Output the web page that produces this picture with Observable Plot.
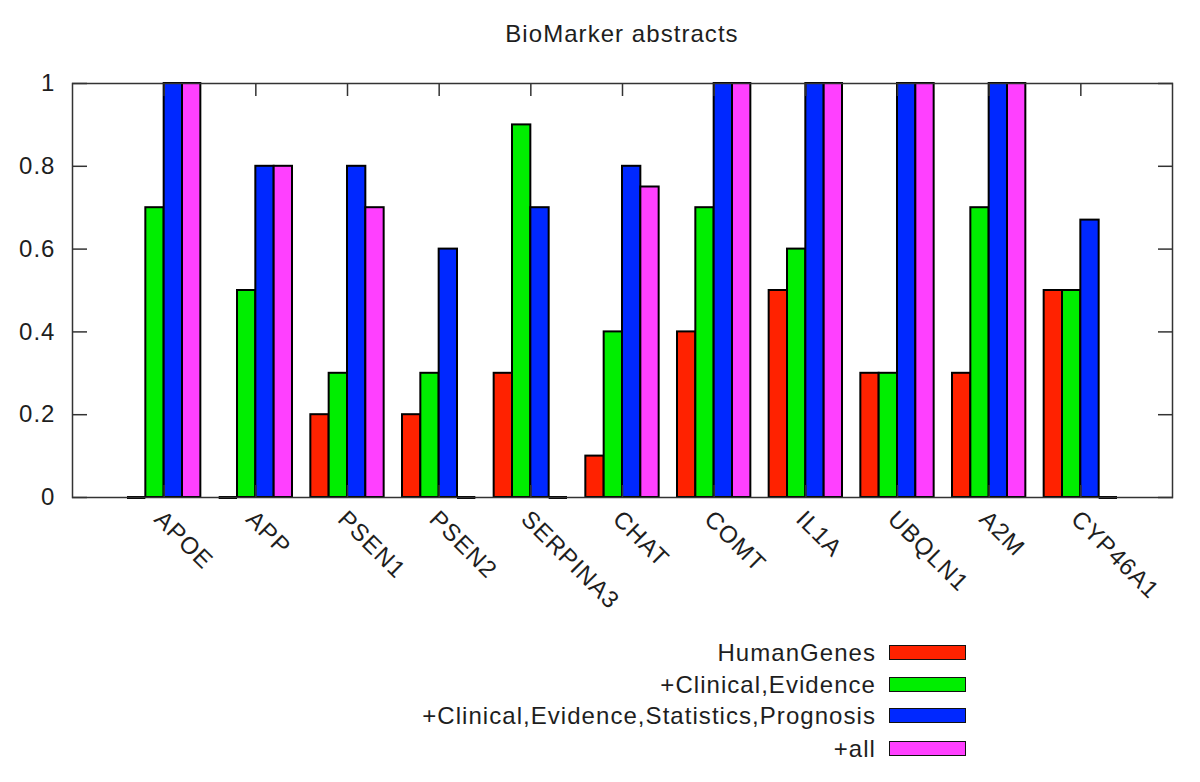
<!DOCTYPE html>
<html>
<head>
<meta charset="utf-8">
<script src="https://cdn.jsdelivr.net/npm/d3@7"></script>
<script src="https://cdn.jsdelivr.net/npm/@observablehq/plot@0.6"></script>
<style>
  html, body { margin: 0; padding: 0; background: #fff; }
  #wrap { position: relative; width: 1200px; height: 782px; font-family: "Liberation Sans", Arial, sans-serif; color: #1e1e1e; }
  #title { position: absolute; left: 72px; width: 1100px; top: 22px; text-align: center; font-size: 24px; line-height: 24px; letter-spacing: 1.05px; }
  #chart { position: absolute; left: 0; top: 60px; }
  #legend { position: absolute; left: 0; top: 0; width: 1200px; }
  .lrow { position: absolute; left: 0; width: 1200px; height: 32px; }
  .ltext { position: absolute; right: 324px; font-size: 24px; line-height: 24px; letter-spacing: 1.05px; white-space: nowrap; }
  .lbox { position: absolute; left: 889px; width: 75px; height: 13px; border: 1.5px solid #111; }
</style>
</head>
<body>
<div id="wrap">
  <div id="title"></div>
  <div id="chart"></div>
  <div id="legend"></div>
</div>
<script>
const title = "BioMarker abstracts";
const genes = ["APOE", "APP", "PSEN1", "PSEN2", "SERPINA3", "CHAT", "COMT", "IL1A", "UBQLN1", "A2M", "CYP46A1"];
const seriesNames = ["HumanGenes", "+Clinical,Evidence", "+Clinical,Evidence,Statistics,Prognosis", "+all"];
const humanGenes = [0, 0, 0.2, 0.2, 0.3, 0.1, 0.4, 0.5, 0.3, 0.3, 0.5];
const clinicalEvidence = [0.7, 0.5, 0.3, 0.3, 0.9, 0.4, 0.7, 0.6, 0.3, 0.7, 0.5];
const clinicalEvidenceStatsPrognosis = [1, 0.8, 0.8, 0.6, 0.7, 0.8, 1, 1, 1, 1, 0.67];
const allSeries = [1, 0.8, 0.7, 0, 0, 0.75, 1, 1, 1, 1, 0];
const seriesColors = ["#ff2200", "#00ee00", "#0028ff", "#ff40ff"];
const yTicks = [0, 0.2, 0.4, 0.6, 0.8, 1];
const yTickLabels = ["0", "0.2", "0.4", "0.6", "0.8", "1"];

const seriesValues = [humanGenes, clinicalEvidence, clinicalEvidenceStatsPrognosis, allSeries];
const rows = [];
genes.forEach((g, gi) => {
  seriesValues.forEach((vals, si) => {
    rows.push({gene: g, gi, si, series: seriesNames[si], value: vals[gi]});
  });
});
const slot = 0.2; // gnuplot histogram: 4 bars + 1 gap per cluster
const x1 = d => d.gi - 2 * slot + d.si * slot;
const x2 = d => d.gi - 2 * slot + (d.si + 1) * slot;
const geneIdx = genes.map((g, i) => i);

document.getElementById("title").textContent = title;

const chart = Plot.plot({
  width: 1200,
  height: 560,
  marginLeft: 72,
  marginRight: 28,
  marginTop: 23,
  marginBottom: 123,
  style: {fontFamily: "Liberation Sans, Arial, sans-serif", fontSize: "24px", letterSpacing: "1.05px", color: "#1e1e1e", background: "white"},
  x: {type: "linear", domain: [-1, genes.length], axis: null},
  y: {domain: [0, 1], axis: null},
  color: {domain: seriesNames, range: seriesColors},
  marks: [
    Plot.rect(rows.filter(d => d.value > 0), {
      x1, x2, y1: d => 0, y2: d => d.value,
      fill: "series", stroke: "#000", strokeWidth: 2
    }),
    Plot.ruleY(rows.filter(d => d.value === 0), {
      x1, x2, y: d => 0, stroke: "#000", strokeWidth: 3
    }),
    Plot.frame({stroke: "#333", strokeWidth: 1.5}),
    Plot.axisY({anchor: "left", ticks: yTicks, tickSize: 0, tickPadding: 17, tickFormat: (d) => yTickLabels[yTicks.indexOf(d)], label: null, fontSize: 24}),
    Plot.axisY({anchor: "left", ticks: yTicks, tickSize: -15, tickFormat: () => "", label: null, stroke: "#333", strokeWidth: 1.5}),
    Plot.axisY({anchor: "right", ticks: yTicks, tickSize: -15, tickFormat: () => "", label: null, stroke: "#333", strokeWidth: 1.5}),
    Plot.axisX({anchor: "top", ticks: geneIdx, tickSize: -12, tickFormat: () => "", label: null, stroke: "#333", strokeWidth: 1.5}),
    Plot.axisX({anchor: "bottom", ticks: geneIdx, tickSize: -12, tickFormat: () => "", label: null, stroke: "#333", strokeWidth: 1.5}),
    Plot.text(genes, {
      x: (d, i) => i, y: d => 0, text: d => d,
      rotate: 45, textAnchor: "start", lineAnchor: "top",
      dx: 1, dy: 11, fontSize: 24, fill: "#1e1e1e"
    })
  ]
});
document.getElementById("chart").appendChild(chart);

const legend = document.getElementById("legend");
const baselines = [661, 693, 724, 757];
seriesNames.forEach((name, i) => {
  const row = document.createElement("div");
  row.className = "lrow";
  row.style.top = (baselines[i] - 20) + "px";
  const t = document.createElement("div");
  t.className = "ltext";
  t.style.top = "0px";
  t.textContent = name;
  const b = document.createElement("div");
  b.className = "lbox";
  b.style.top = "4px";
  b.style.background = seriesColors[i];
  row.appendChild(t);
  row.appendChild(b);
  legend.appendChild(row);
});
</script>
</body>
</html>
